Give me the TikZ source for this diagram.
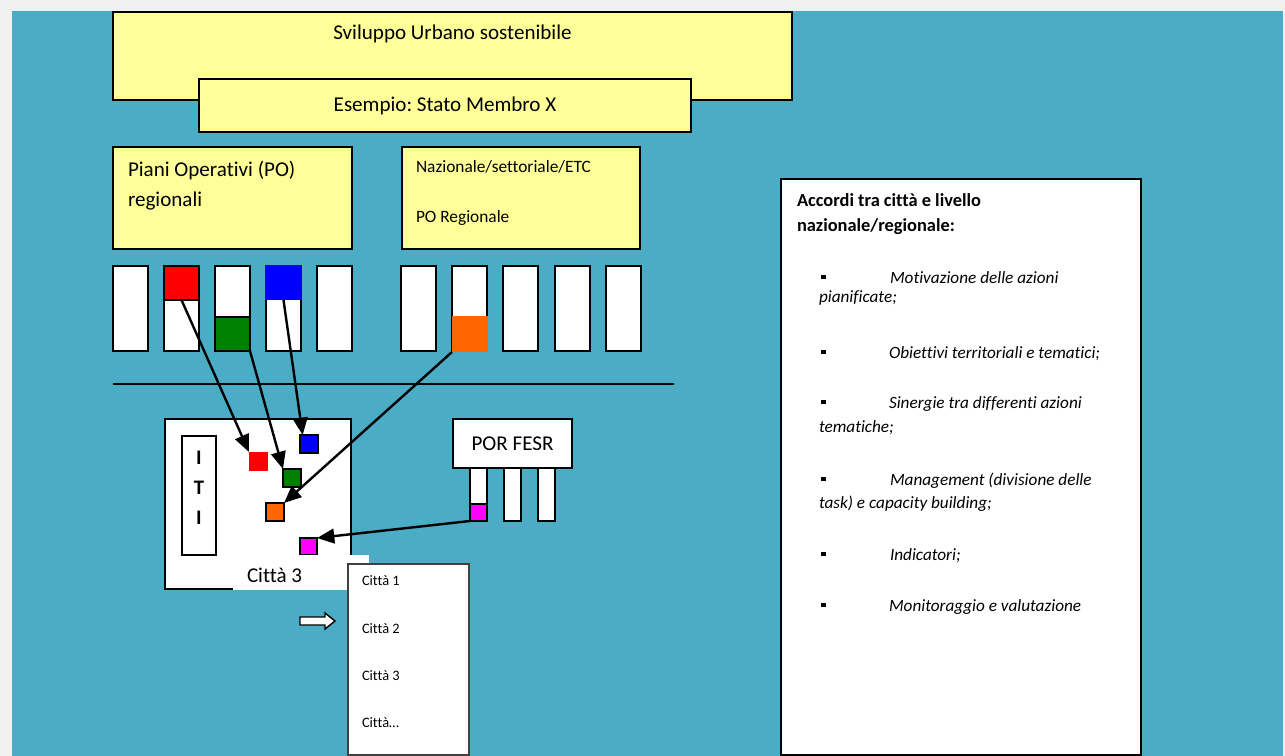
\documentclass[tikz,border=0pt]{standalone}
\usepackage{fontspec}
\setmainfont{Carlito}[Ligatures=NoCommon]
\usetikzlibrary{arrows.meta,calc}
\definecolor{bgblue}{HTML}{4BACC6}
\definecolor{frame}{HTML}{F0F0F0}
\definecolor{pale}{HTML}{FFFF99}
\definecolor{cred}{HTML}{FF0000}
\definecolor{cgreen}{HTML}{008000}
\definecolor{cblue}{HTML}{0000FF}
\definecolor{corange}{HTML}{FF6600}
\definecolor{cmag}{HTML}{FF00FF}
\definecolor{listgray}{HTML}{404040}
\newcommand\mybox[7]{\node[#6,minimum width={(#4-#2)*0.75pt},minimum height={(#5-#3)*0.75pt}] (#1) at ({(#2+#4)/2},{(#3+#5)/2}) {#7};}
\newcommand\fsz[1]{\fontsize{#1}{#1}\selectfont}
\frenchspacing
\begin{document}
\begin{tikzpicture}[x=0.75pt,y=-0.75pt,
  every node/.style={inner sep=0pt,outer sep=0pt},
  ybox/.style={draw=black,fill=pale,line width=1.5pt},
  wbox/.style={draw=black,fill=white,line width=1.5pt},
  sq/.style={draw=black,fill=#1,line width=1.1pt},
  flat/.style={fill=#1},
  txt/.style={anchor=base west},
  ctxt/.style={anchor=base},
  arr/.style={draw=black,line width=1.8pt,-{Triangle[length=13pt,width=11pt]}},
  bul/.style={fill=black,minimum size=3.5pt},
  itm/.style={anchor=base west,font=\fsz{12.9}\itshape}
]
\useasboundingbox (0,0) rectangle (1285,756);
\fill[frame] (0,0) rectangle (1285,756);
\fill[bgblue] (12,11) rectangle (1283,756);

% top boxes
\mybox{top}{113}{12}{792}{100}{ybox}{}
\node[ctxt,font=\fsz{15.8}] (toptxt) at (452.5,40) {Sviluppo Urbano sostenibile};
\mybox{stato}{199}{79}{691}{132}{ybox}{\fsz{15.8}Esempio: Stato Membro X}

% PO boxes
\mybox{piani}{113}{147}{352}{249}{ybox}{}
\node[txt,font=\fsz{15.8}] (pianiA) at (128,177) {Piani Operativi (PO)};
\node[txt,font=\fsz{15.8}] (pianiB) at (128,206) {regionali};
\mybox{naz}{402}{147}{640}{249}{ybox}{}
\node[txt,font=\fsz{13}] (nazA) at (416,173) {Nazionale/settoriale/ETC};
\node[txt,font=\fsz{13}] (nazB) at (416,223) {PO Regionale};

% columns
\mybox{c1}{113}{266}{148}{351}{wbox}{}
\mybox{c2}{164}{266}{199}{351}{wbox}{}
\mybox{c3}{215}{266}{250}{351}{wbox}{}
\mybox{c4}{266}{266}{301}{351}{wbox}{}
\mybox{c5}{317}{266}{352}{351}{wbox}{}
\mybox{c6}{401}{266}{436}{351}{wbox}{}
\mybox{c7}{452}{266}{487}{351}{wbox}{}
\mybox{c8}{503}{266}{538}{351}{wbox}{}
\mybox{c9}{555}{266}{590}{351}{wbox}{}
\mybox{c10}{606}{266}{641}{351}{wbox}{}
\mybox{red}{164}{266}{199}{300}{sq=cred}{}
\mybox{green}{215}{317}{250}{351}{sq=cgreen}{}
\mybox{blue}{265}{265}{302}{300}{flat=cblue}{}
\mybox{orange}{452}{316}{488}{352}{flat=corange}{}

% separator
\draw[line width=1.5pt] (113,384) -- (674,384);

% ITI box
\mybox{iti}{165}{419}{351}{589}{wbox}{}
\mybox{itibar}{182}{436}{216}{555}{wbox}{}
\node[ctxt,font=\fsz{15.5}\bfseries] (i1) at (199,464) {I};
\node[ctxt,font=\fsz{15.5}\bfseries] (i2) at (199,494) {T};
\node[ctxt,font=\fsz{15.5}\bfseries] (i3) at (199,524) {I};
\mybox{sblue}{300}{435}{318}{453}{sq=cblue}{}
\mybox{sred}{249}{452}{268}{471}{flat=cred}{}
\mybox{sgreen}{283}{469}{301}{487}{sq=cgreen}{}
\mybox{sorange}{266}{503}{284}{521}{sq=corange}{}
\mybox{smag}{300}{538}{317}{555}{sq=cmag}{}
\mybox{cover}{233}{555}{369}{590}{fill=white}{}
\node[txt,font=\fsz{15.8}] (citta3) at (247,582) {Città 3};

% POR FESR
\mybox{por}{453}{419}{572}{468}{wbox}{\fsz{15.8}POR FESR}
\mybox{p1}{470}{468}{487}{521}{wbox}{}
\mybox{p2}{504}{468}{521}{521}{wbox}{}
\mybox{p3}{538}{468}{555}{521}{wbox}{}
\mybox{pmag}{470}{504}{487}{521}{sq=cmag}{}

% city list
\mybox{list}{348}{564}{469}{755}{draw=listgray,fill=white,line width=0.8pt}{}
\node[txt,font=\fsz{10.8}] (l1) at (362,585) {Città 1};
\node[txt,font=\fsz{10.8}] (l2) at (362,633) {Città 2};
\node[txt,font=\fsz{10.8}] (l3) at (362,680) {Città 3};
\node[txt,font=\fsz{10.8}] (l4) at (362,727) {Città…};

% block arrow
\draw[line width=1.1pt,fill=white,line join=miter] (300,617) -- (325,617) -- (325,613) -- (335,621) -- (325,629) -- (325,625) -- (300,625) -- cycle;

% arrows
\draw[arr] (red.south) -- (sred.north west);
\draw[arr] (green.south east) -- (sgreen.north west);
\draw[arr] (blue.south) -- ([xshift=2]sblue.north west);
\draw[arr] (orange.south west) -- (sorange.north east);
\draw[arr] (pmag.south west) -- (smag.north east);

% right text box
\mybox{accordi}{781}{179}{1141}{755}{wbox}{}
\node[txt,font=\fsz{13.8}\bfseries] (accA) at (797,206) {Accordi tra città e livello};
\node[txt,font=\fsz{13.8}\bfseries] (accB) at (797,231) {nazionale/regionale:};
\node[bul] (b1) at (823.5,277) {};
\node[itm] (t1a) at (890,283) {Motivazione delle azioni};
\node[itm] (t1b) at (819,302) {pianificate;};
\node[bul] (b2) at (823.5,352) {};
\node[itm] (t2) at (889,358) {Obiettivi territoriali e tematici;};
\node[bul] (b3) at (823.5,402) {};
\node[itm] (t3a) at (889,408) {Sinergie tra differenti azioni};
\node[itm] (t3b) at (819,432) {tematiche;};
\node[bul] (b4) at (823.5,479) {};
\node[itm] (t4a) at (890,485) {Management (divisione delle};
\node[itm] (t4b) at (819,508) {task) e capacity building;};
\node[bul] (b5) at (823.5,554) {};
\node[itm] (t5) at (890,560) {Indicatori;};
\node[bul] (b6) at (823.5,605) {};
\node[itm] (t6) at (889,611) {Monitoraggio e valutazione};
\end{tikzpicture}
\end{document}
